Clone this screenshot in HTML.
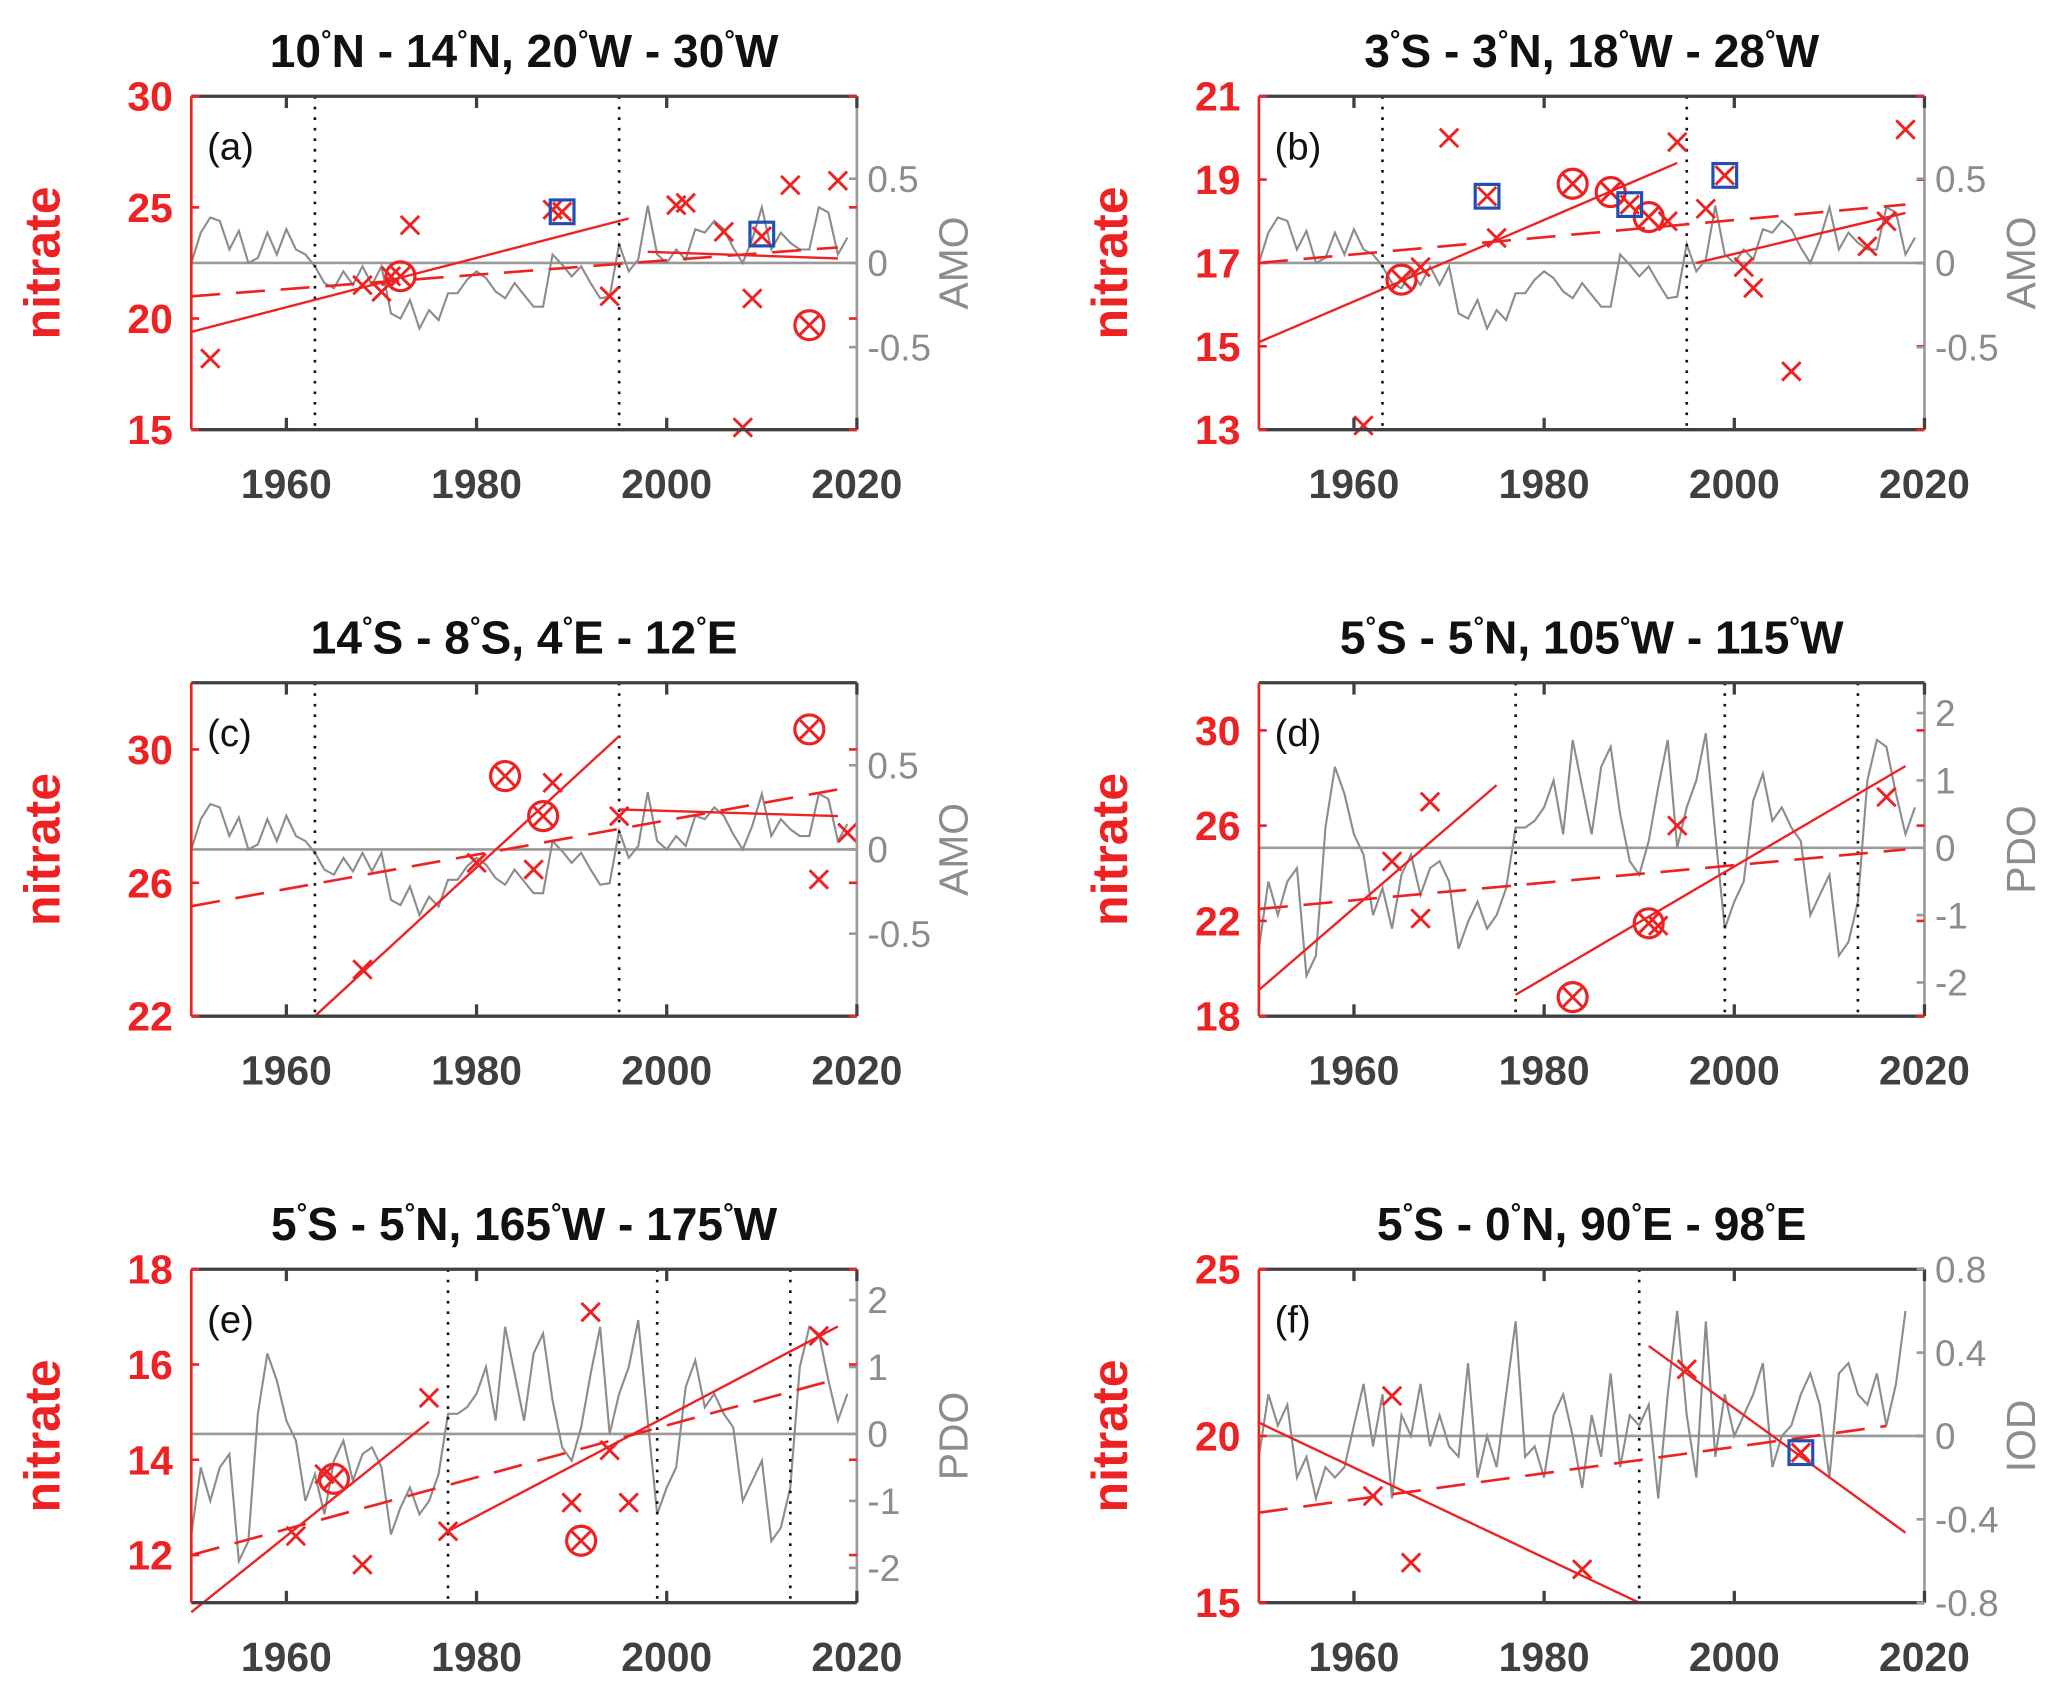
<!DOCTYPE html>
<html><head><meta charset="utf-8"><style>
html,body{margin:0;padding:0;background:#fff;}
svg{display:block;}
text{font-family:"Liberation Sans",Arial,sans-serif;}
</style></head><body>
<svg id="fig" width="2067" height="1691" viewBox="0 0 1568 1283" xmlns="http://www.w3.org/2000/svg"></svg>
<script>
const amo=[0.0,0.18,0.27,0.25,0.08,0.19,0.0,0.03,0.18,0.05,0.2,0.08,0.05,-0.02,-0.12,-0.15,-0.05,-0.13,-0.02,-0.13,-0.02,-0.3,-0.33,-0.22,-0.39,-0.28,-0.34,-0.18,-0.18,-0.1,-0.05,-0.09,-0.17,-0.21,-0.12,-0.19,-0.26,-0.26,0.05,-0.01,-0.08,-0.02,-0.12,-0.21,-0.2,0.11,-0.05,0.02,0.34,0.05,0.0,0.08,0.02,0.2,0.18,0.25,0.2,0.09,0.0,0.14,0.33,0.08,0.18,0.12,0.08,0.08,0.33,0.3,0.05,0.15];
const pdo=[-1.5,-0.5,-1.0,-0.5,-0.3,-1.9,-1.6,0.3,1.2,0.8,0.2,-0.1,-1.0,-0.6,-1.2,-0.4,-0.1,-0.7,-0.3,-0.2,-0.5,-1.5,-1.1,-0.8,-1.2,-1.0,-0.6,0.3,0.3,0.4,0.6,1.0,0.2,1.6,0.9,0.2,1.2,1.5,0.5,-0.2,-0.4,0.1,0.9,1.6,0.0,0.6,1.0,1.7,0.2,-1.2,-0.8,-0.5,0.7,1.1,0.4,0.6,0.3,0.1,-1.0,-0.7,-0.4,-1.6,-1.4,-0.8,1.0,1.6,1.5,0.8,0.2,0.6];
const iod=[-0.1,0.2,0.05,0.15,-0.2,-0.1,-0.3,-0.15,-0.2,-0.15,0.05,0.25,-0.05,0.2,-0.3,0.1,0.0,0.25,-0.05,0.1,-0.05,-0.1,0.35,-0.2,0.0,-0.15,0.2,0.55,-0.1,-0.05,-0.2,0.1,0.2,0.0,-0.25,0.1,-0.1,0.3,-0.15,0.1,0.05,0.15,-0.3,0.2,0.6,0.1,-0.2,0.55,-0.1,0.2,0.0,0.1,0.2,0.35,-0.15,0.0,0.05,0.2,0.3,0.15,-0.2,0.3,0.35,0.2,0.15,0.3,0.05,0.25,0.6];
const xTicks=[1960,1980,2000,2020];
const aCross=[[1952,18.2],[1968,21.5],[1970,21.2],[1971,21.9],[1973,24.2],[1988,24.9],[1989,24.8],[1994,21.0],[2001,25.1],[2002,25.2],[2006,23.9],[2008,15.1],[2009,20.9],[2010,23.7],[2013,26.0],[2018,26.2]];
const aCirc=[[1972,21.9],[2015,19.7]];
const aSq=[[1989,24.8],[2010,23.8]];
const aLines=[[1950,19.4,1996,24.5],[1998,23.0,2018,22.7]];
const aDash=[1950,21.0,2018,23.2];
const bCross=[[1961,13.1],[1967,16.9],[1970,20.0],[1974,18.6],[1975,17.6],[1983,18.9],[1987,18.7],[1989,18.4],[1991,18.1],[1993,18.0],[1994,19.9],[1997,18.3],[1999,19.1],[2001,16.9],[2002,16.4],[2006,14.4],[2014,17.4],[2016,18.0],[2018,20.2]];
const bCirc=[[1965,16.6],[1983,18.9],[1987,18.7],[1991,18.1]];
const bSq=[[1974,18.6],[1989,18.4],[1999,19.1]];
const bLines=[[1950,15.1,1994,19.4],[1996,17.0,2018,18.2]];
const bDash=[1950,17.0,2018,18.4];
const cCross=[[1968,23.4],[1980,26.6],[1986,26.4],[1988,29.0],[1995,28.0],[2016,26.1],[2019,27.5]];
const cCirc=[[1983,29.2],[1987,28.0],[2015,30.6]];
const cLines=[[1963,22,1995,30.4],[1995,28.2,2018,28.0]];
const cDash=[1950,25.3,2018,28.8];
const dCross=[[1964,24.5],[1967,22.1],[1968,27.0],[1992,21.8],[1994,26.0],[2016,27.2]];
const dCirc=[[1983,18.8],[1991,21.9]];
const dLines=[[1950,19.1,1975,27.7],[1977,18.9,2018,28.5]];
const dDash=[1950,22.5,2018,25.0];
const eCross=[[1961,12.4],[1964,13.7],[1968,11.8],[1975,15.3],[1977,12.5],[1990,13.1],[1992,17.1],[1994,14.2],[1996,13.1],[2016,16.6]];
const eCirc=[[1965,13.6],[1991,12.3]];
const eLines=[[1950,10.8,1975,14.8],[1977,12.5,2018,16.8]];
const eDash=[1950,12.0,2018,15.7];
const fCross=[[1962,18.2],[1964,21.2],[1966,16.2],[1984,16.0],[1995,22.0],[2007,19.5]];
const fSq=[[2007,19.5]];
const fLines=[[1950,20.4,1990,15.0],[1991,22.7,2018,17.1]];
const fDash=[1950,17.7,2016,20.3];

const C1=145,C2=955;
const panels=[
 {id:'a',x0:C1,y0:73,title:['10','N - 14','N, 20','W - 30','W'],yMin:15,yMax:30,yT:[15,20,25,30],idx:amo,rMin:-0.99,rMax:0.99,rT:[-0.5,0,0.5],rL:['-0.5','0','0.5'],rName:'AMO',dots:[1963,1995],cross:aCross,circ:aCirc,sq:aSq,lines:aLines,dash:aDash},
 {id:'b',x0:C2,y0:73,title:['3','S - 3','N, 18','W - 28','W'],yMin:13,yMax:21,yT:[13,15,17,19,21],idx:amo,rMin:-0.99,rMax:0.99,rT:[-0.5,0,0.5],rL:['-0.5','0','0.5'],rName:'AMO',dots:[1963,1995],cross:bCross,circ:bCirc,sq:bSq,lines:bLines,dash:bDash},
 {id:'c',x0:C1,y0:518,title:['14','S - 8','S, 4','E - 12','E'],yMin:22,yMax:32,yT:[22,26,30],idx:amo,rMin:-0.99,rMax:0.99,rT:[-0.5,0,0.5],rL:['-0.5','0','0.5'],rName:'AMO',dots:[1963,1995],cross:cCross,circ:cCirc,sq:[],lines:cLines,dash:cDash},
 {id:'d',x0:C2,y0:518,title:['5','S - 5','N, 105','W - 115','W'],yMin:18,yMax:32,yT:[18,22,26,30],idx:pdo,rMin:-2.5,rMax:2.45,rT:[-2,-1,0,1,2],rL:['-2','-1','0','1','2'],rName:'PDO',dots:[1977,1999,2013],cross:dCross,circ:dCirc,sq:[],lines:dLines,dash:dDash},
 {id:'e',x0:C1,y0:963,title:['5','S - 5','N, 165','W - 175','W'],yMin:11,yMax:18,yT:[12,14,16,18],idx:pdo,rMin:-2.52,rMax:2.46,rT:[-2,-1,0,1,2],rL:['-2','-1','0','1','2'],rName:'PDO',dots:[1977,1999,2013],cross:eCross,circ:eCirc,sq:[],lines:eLines,dash:eDash},
 {id:'f',x0:C2,y0:963,title:['5','S - 0','N, 90','E - 98','E'],yMin:15,yMax:25,yT:[15,20,25],idx:iod,rMin:-0.8,rMax:0.8,rT:[-0.8,-0.4,0,0.4,0.8],rL:['-0.8','-0.4','0','0.4','0.8'],rName:'IOD',dots:[1990],cross:fCross,circ:[],sq:fSq,lines:fLines,dash:fDash}
];
const W=505,H=253,NS='http://www.w3.org/2000/svg';
const svg=document.getElementById('fig');
function mk(tag,attrs,parent,txt){const e=document.createElementNS(NS,tag);for(const k in attrs)e.setAttribute(k,attrs[k]);if(txt!==undefined)e.textContent=txt;(parent||svg).appendChild(e);return e;}
panels.forEach(p=>{
 const g=mk('g',{});
 
 
 const X=yr=>p.x0+(yr-1950)/70*W;
 const Y=v=>p.y0+H-(v-p.yMin)/(p.yMax-p.yMin)*H;
 const R=v=>p.y0+H-(v-p.rMin)/(p.rMax-p.rMin)*H;
 const t=mk('text',{x:p.x0+W/2,y:p.y0-22,'text-anchor':'middle','font-size':35,'font-weight':'bold',fill:'#111'},g);
 
 
 p.title.forEach((s,i)=>{
  if(i===0) mk('tspan',{},t,s); else mk('tspan',{dy:14},t,s);
  if(i<p.title.length-1) mk('tspan',{'font-size':20,dy:-14},t,'°');
 });
 mk('line',{x1:p.x0,x2:p.x0+W,y1:R(0),y2:R(0),stroke:'#999','stroke-width':2},g);
 const ip=p.idx.map((v,i)=>X(1950+i).toFixed(1)+','+R(v).toFixed(1)).join(' ');
 const il=mk('polyline',{points:ip,fill:'none',stroke:'#8c8c8c','stroke-width':1.6},g);
 
 
 p.dots.forEach(d=>{const l=mk('line',{x1:X(d),x2:X(d),y1:p.y0,y2:p.y0+H,stroke:'#111','stroke-width':2,'stroke-dasharray':'2,6'},g);
  
  });
 p.lines.forEach(L=>{const l=mk('line',{x1:X(L[0]),y1:Y(L[1]),x2:X(L[2]),y2:Y(L[3]),stroke:'#ee2222','stroke-width':1.8},g);
  
  });
 const dl=mk('line',{x1:X(p.dash[0]),y1:Y(p.dash[1]),x2:X(p.dash[2]),y2:Y(p.dash[3]),stroke:'#ee2222','stroke-width':2,'stroke-dasharray':'22,12'},g);
 
 
 p.cross.forEach(c=>{const cx=X(c[0]),cy=Y(c[1]),s=7;
  const m=mk('path',{d:`M${cx-s},${cy-s}L${cx+s},${cy+s}M${cx-s},${cy+s}L${cx+s},${cy-s}`,stroke:'#ee2222','stroke-width':2.2,fill:'none'},g);
  
  });
 p.circ.forEach(c=>{const cx=X(c[0]),cy=Y(c[1]);
  const m=mk('g',{},g);
  
  
  mk('circle',{cx:cx,cy:cy,r:11,fill:'none',stroke:'#ee2222','stroke-width':2.4},m);
  mk('path',{d:`M${cx-7.5},${cy-7.5}L${cx+7.5},${cy+7.5}M${cx-7.5},${cy+7.5}L${cx+7.5},${cy-7.5}`,stroke:'#ee2222','stroke-width':2.2},m);});
 p.sq.forEach(c=>{const cx=X(c[0]),cy=Y(c[1]);
  const m=mk('rect',{x:cx-9,y:cy-9,width:18,height:18,fill:'none',stroke:'#1f4fb0','stroke-width':2.4},g);
  
  });
 mk('line',{x1:p.x0,x2:p.x0+W,y1:p.y0,y2:p.y0,stroke:'#404040','stroke-width':2.5},g);
 mk('line',{x1:p.x0,x2:p.x0+W,y1:p.y0+H,y2:p.y0+H,stroke:'#404040','stroke-width':2.5},g);
 const la=mk('line',{x1:p.x0,x2:p.x0,y1:p.y0,y2:p.y0+H,stroke:'#ee2222','stroke-width':2},g);
 
 
 const ra=mk('line',{x1:p.x0+W,x2:p.x0+W,y1:p.y0,y2:p.y0+H,stroke:'#999','stroke-width':2},g);
 
 
 xTicks.forEach(t=>{const x=X(t);
  mk('line',{x1:x,x2:x,y1:p.y0,y2:p.y0+9,stroke:'#404040','stroke-width':2.5},g);
  mk('line',{x1:x,x2:x,y1:p.y0+H,y2:p.y0+H-9,stroke:'#404040','stroke-width':2.5},g);
  const tl=mk('text',{x:x,y:p.y0+H+52,'text-anchor':'middle','font-size':31,'font-weight':'bold',fill:'#404040'},g,t);
  
  });
 p.yT.forEach(v=>{const y=Y(v);
  mk('line',{x1:p.x0,x2:p.x0+6,y1:y,y2:y,stroke:'#ee2222','stroke-width':2},g);
  mk('line',{x1:p.x0+W,x2:p.x0+W-6,y1:y,y2:y,stroke:'#ee2222','stroke-width':2},g);
  const tl=mk('text',{x:p.x0-14,y:y+11,'text-anchor':'end','font-size':31,'font-weight':'bold',fill:'#ee2222'},g,v);
  
  });
 p.rT.forEach((v,i)=>{const y=R(v);
  mk('line',{x1:p.x0+W,x2:p.x0+W-6,y1:y,y2:y,stroke:'#999','stroke-width':2},g);
  const tl=mk('text',{x:p.x0+W+8,y:y+10,'font-size':28,fill:'#8c8c8c'},g,p.rL[i]);
  
  });
 const yl=mk('text',{x:0,y:0,transform:`translate(${p.x0-100},${p.y0+H/2}) rotate(-90)`,'text-anchor':'middle','font-size':38,'font-weight':'bold',fill:'#ee2222'},g,'nitrate');
 
 
 const rl=mk('text',{x:0,y:0,transform:`translate(${p.x0+W+84},${p.y0+H/2}) rotate(-90)`,'text-anchor':'middle','font-size':31,fill:'#8c8c8c'},g,p.rName);
 
 
 const pl=mk('text',{x:p.x0+12,y:p.y0+48,'font-size':29,fill:'#111'},g,'('+p.id+')');
 
 
});
</script>
</body></html>
